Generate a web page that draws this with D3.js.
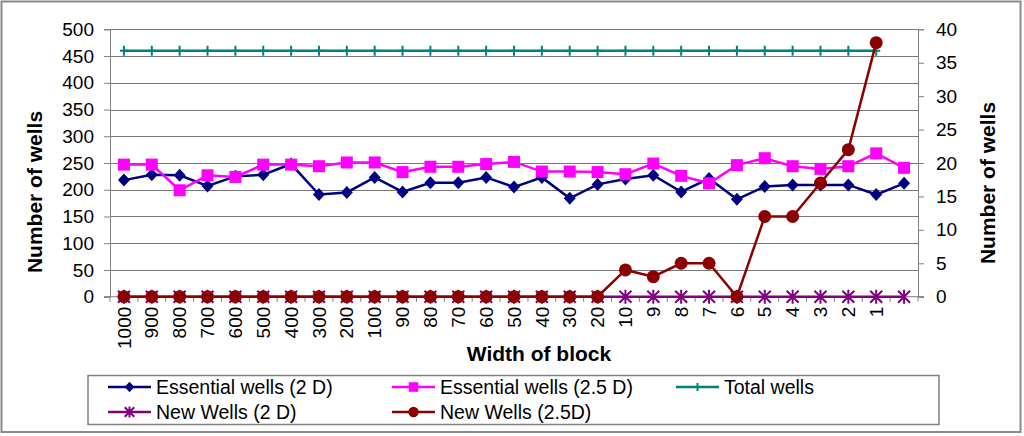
<!DOCTYPE html>
<html><head><meta charset="utf-8">
<script src="https://cdn.jsdelivr.net/npm/d3@7"></script>
<style>body{margin:0;background:#fff}svg{display:block;font-family:"Liberation Sans",Arial,sans-serif}</style>
</head><body><svg id="c" width="1024" height="436"></svg>
<script>
const categories = ["1000","900","800","700","600","500","400","300","200","100","90","80","70","60","50","40","30","20","10","9","8","7","6","5","4","3","2","1",""];
const essential2D  = [218,228,227,207,225,228,248,191,195,223,196,213,213,223,205,223,184,210,220,227,196,221,182,206,209,209,209,191,212];
const essential25D = [247,247,199,227,224,247,247,244,251,251,233,243,243,248,252,234,234,233,229,249,226,212,246,259,244,239,244,268,241];
const totalWells   = [460,460,460,460,460,460,460,460,460,460,460,460,460,460,460,460,460,460,460,460,460,460,460,460,460,460,460,460,null];
const newWells2D   = [0,0,0,0,0,0,0,0,0,0,0,0,0,0,0,0,0,0,0,0,0,0,0,0,0,0,0,0,0];
const newWells25D  = [0,0,0,0,0,0,0,0,0,0,0,0,0,0,0,0,0,0,4,3,5,5,0,12,12,17,22,38,null];
const leftTicks  = [0,50,100,150,200,250,300,350,400,450,500];
const rightTicks = [0,5,10,15,20,25,30,35,40];

const svg = d3.select("#c");
const L=110, R=918, T=29.3, B=296.7;
const x = d3.scaleBand().domain(d3.range(categories.length)).range([L,R]);
const cx = i => x(i) + x.bandwidth()/2;
const yL = d3.scaleLinear().domain([0,500]).range([B,T]);
const yR = d3.scaleLinear().domain([0,40]).range([B,T]);

// outer border
svg.append("rect").attr("x",1.5).attr("y",1.5).attr("width",1019).attr("height",430.5)
  .attr("fill","#fff").attr("stroke","#8a8a8a").attr("stroke-width",2);

// gridlines
svg.append("g").selectAll("line").data(leftTicks.filter(d=>d>0)).join("line")
  .attr("x1",L).attr("x2",R).attr("y1",d=>Math.round(yL(d))+0.5).attr("y2",d=>Math.round(yL(d))+0.5)
  .attr("stroke","#787878").attr("stroke-width",1);

// left axis
const gl = svg.append("g").attr("transform",`translate(${L},0)`)
  .call(d3.axisLeft(yL).tickValues(leftTicks).tickSize(6).tickPadding(10));
gl.select(".domain").attr("stroke","#808080");
gl.selectAll(".tick line").attr("stroke","#808080");
gl.selectAll("text").attr("font-size",19).attr("fill","#000").attr("font-family","Liberation Sans, Arial");

// right axis
const gr = svg.append("g").attr("transform",`translate(${R},0)`)
  .call(d3.axisRight(yR).tickValues(rightTicks).tickSize(6).tickPadding(12));
gr.select(".domain").attr("stroke","#808080");
gr.selectAll(".tick line").attr("stroke","#808080");
gr.selectAll("text").attr("font-size",19).attr("fill","#000").attr("font-family","Liberation Sans, Arial");

// bottom axis line + minor ticks between categories
svg.append("line").attr("x1",L-6).attr("x2",R+6).attr("y1",B).attr("y2",B).attr("stroke","#808080");
svg.append("g").selectAll("line").data(d3.range(categories.length+1)).join("line")
  .attr("x1",i=>i<categories.length? x(i):R).attr("x2",i=>i<categories.length? x(i):R)
  .attr("y1",B).attr("y2",B+5).attr("stroke","#808080");
// x labels
svg.append("g").selectAll("text").data(categories).join("text")
  .attr("transform",(d,i)=>`translate(${cx(i)},${B+10}) rotate(-90)`)
  .attr("text-anchor","end").attr("dy","0.35em").attr("font-size",19).text(d=>d);

// titles
svg.append("text").attr("x",539).attr("y",361).attr("text-anchor","middle")
  .attr("font-weight","bold").attr("font-size",21).text("Width of block");
svg.append("text").attr("transform","translate(35,192) rotate(-90)").attr("text-anchor","middle")
  .attr("dy","0.35em").attr("font-weight","bold").attr("font-size",21).text("Number of wells");
svg.append("text").attr("transform","translate(988,183) rotate(-90)").attr("text-anchor","middle")
  .attr("dy","0.35em").attr("font-weight","bold").attr("font-size",21).text("Number of wells");

// marker drawers
function marker(g, type, color, k){
  k = k||1;
  if(type==="diamond") g.append("path").attr("d",`M0,${-6.5*k}L${6*k},0L0,${6.5*k}L${-6*k},0Z`).attr("fill",color);
  else if(type==="square") g.append("rect").attr("x",-6*k).attr("y",-6*k).attr("width",12*k).attr("height",12*k).attr("fill",color);
  else if(type==="circle") g.append("circle").attr("r",6.5*k).attr("fill",color);
  else if(type==="plus") g.append("path").attr("d",`M0,${-5*k}V${5*k}M${-4*k},0H${4*k}`).attr("stroke",color).attr("stroke-width",2);
  else if(type==="star") g.append("path").attr("d",`M0,${-7*k}V${7*k}M${-6*k},${-6*k}L${6*k},${6*k}M${-6*k},${6*k}L${6*k},${-6*k}`).attr("stroke",color).attr("stroke-width",2);
}
const series = [
  {name:"Essential wells (2 D)", data:essential2D, y:yL, color:"#000080", m:"diamond"},
  {name:"Essential wells (2.5 D)", data:essential25D, y:yL, color:"#FF00FF", m:"square"},
  {name:"Total wells", data:totalWells, y:yL, color:"#008080", m:"plus"},
  {name:"New Wells (2 D)", data:newWells2D, y:yR, color:"#800080", m:"star"},
  {name:"New Wells (2.5D)", data:newWells25D, y:yR, color:"#8B0000", m:"circle"}
];
series.forEach(s=>{
  const line = d3.line().defined(d=>d!=null).x((d,i)=>cx(i)).y(d=>s.y(d));
  svg.append("path").datum(s.data).attr("d",line).attr("fill","none")
    .attr("stroke",s.color).attr("stroke-width",2.5);
  s.data.forEach((d,i)=>{ if(d==null) return;
    const g = svg.append("g").attr("transform",`translate(${cx(i)},${s.y(d)})`);
    marker(g,s.m,s.color);
  });
});

// legend
svg.append("rect").attr("x",88).attr("y",375.5).attr("width",851).attr("height",49)
  .attr("fill","#fff").attr("stroke","#808080").attr("stroke-width",1.5);
const legPos = [[108,387],[392,387],[676,387],[108,412],[392,412]];
series.forEach((s,k)=>{
  const [lx,ly]=legPos[k];
  svg.append("line").attr("x1",lx).attr("x2",lx+43).attr("y1",ly).attr("y2",ly)
    .attr("stroke",s.color).attr("stroke-width",2.5);
  const g = svg.append("g").attr("transform",`translate(${lx+21.5},${ly})`);
  marker(g,s.m,s.color,0.8);
  svg.append("text").attr("x",lx+48).attr("y",ly).attr("dy","0.35em")
    .attr("font-size",19.5).text(s.name);
});
</script></body></html>
